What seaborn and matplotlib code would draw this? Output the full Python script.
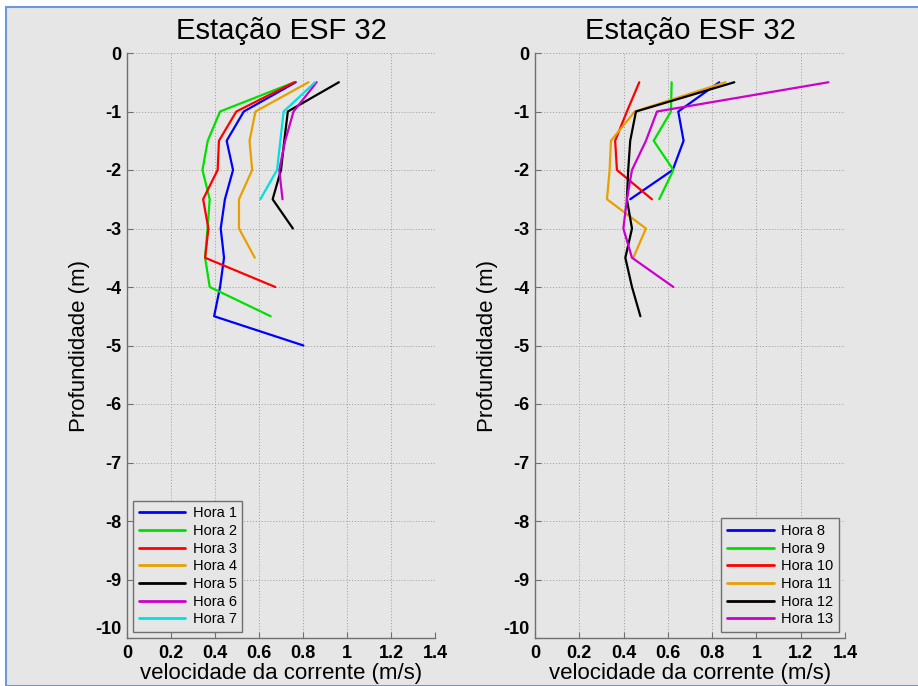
import matplotlib.pyplot as plt
import matplotlib.patches as patches
import pandas as pd
import seaborn as sns

# depth levels (m)
prof = [-0.5, -1, -1.5, -2, -2.5, -3, -3.5, -4, -4.5, -5]

# left panel - Hora 1..7 (velocidade m/s, from the surface down)
hora1 = [0.767, 0.531, 0.453, 0.482, 0.445, 0.426, 0.441, 0.423, 0.396, 0.802]
hora2 = [0.761, 0.423, 0.367, 0.343, 0.376, 0.366, 0.355, 0.376, 0.653]
hora3 = [0.761, 0.497, 0.418, 0.412, 0.346, 0.370, 0.355, 0.674]
hora4 = [0.825, 0.584, 0.557, 0.569, 0.509, 0.509, 0.581]
hora5 = [0.963, 0.731, 0.715, 0.700, 0.662, 0.754]
hora6 = [0.862, 0.757, 0.719, 0.692, 0.707]
hora7 = [0.855, 0.712, 0.697, 0.682, 0.606]

# right panel - Hora 8..13
hora8 = [0.832, 0.647, 0.671, 0.622, 0.430]
hora9 = [0.617, 0.614, 0.536, 0.625, 0.561]
hora10 = [0.471, 0.415, 0.362, 0.370, 0.528]
hora11 = [0.860, 0.451, 0.343, 0.337, 0.325, 0.501, 0.444]
hora12 = [0.900, 0.456, 0.430, 0.421, 0.415, 0.438, 0.408, 0.438, 0.476]
hora13 = [1.325, 0.551, 0.501, 0.438, 0.415, 0.399, 0.438, 0.625]

esquerda = {"Hora 1": hora1, "Hora 2": hora2, "Hora 3": hora3, "Hora 4": hora4,
            "Hora 5": hora5, "Hora 6": hora6, "Hora 7": hora7}
direita = {"Hora 8": hora8, "Hora 9": hora9, "Hora 10": hora10,
           "Hora 11": hora11, "Hora 12": hora12, "Hora 13": hora13}

cores_esq = ["#0000ff", "#00e000", "#ff0000", "#e8a000", "#000000", "#cc00cc", "#00e0e0"]
cores_dir = ["#0000ff", "#00e000", "#ff0000", "#e8a000", "#000000", "#cc00cc"]


def monta_df(series):
    linhas = []
    for nome, vel in series.items():
        for v, p in zip(vel, prof):
            linhas.append({"hora": nome, "vel": v, "prof": p})
    return pd.DataFrame(linhas)


sns.set_theme(style="ticks")
plt.rcParams["font.family"] = ["Liberation Sans", "DejaVu Sans"]
plt.rcParams["axes.unicode_minus"] = False
plt.rcParams["text.color"] = "black"
plt.rcParams["axes.labelcolor"] = "black"
plt.rcParams["xtick.labelcolor"] = "black"
plt.rcParams["ytick.labelcolor"] = "black"

bg = "#e6e6e6"
fig = plt.figure(figsize=(9.18, 6.86), dpi=100, facecolor="white")
fig.patches.append(patches.Rectangle((6 / 918, 0), 1, 1 - 7 / 686, transform=fig.transFigure,
                                     facecolor=bg, edgecolor="#6a9bd8", linewidth=1.5, zorder=-1))

ax1 = fig.add_axes([127 / 918, 48 / 686, 308 / 918, 585 / 686])
ax2 = fig.add_axes([535 / 918, 48 / 686, 310 / 918, 585 / 686])

for ax, series, cores, loc in [(ax1, esquerda, cores_esq, "lower left"),
                               (ax2, direita, cores_dir, "lower right")]:
    df = monta_df(series)
    sns.lineplot(data=df, x="vel", y="prof", hue="hora", hue_order=list(series.keys()),
                 palette=cores, sort=False, estimator=None, linewidth=1.6, ax=ax)
    ax.set_facecolor(bg)
    ax.set_xlim(0, 1.4)
    ax.set_ylim(-10, 0)
    ax.set_xticks([0, 0.2, 0.4, 0.6, 0.8, 1, 1.2, 1.4])
    ax.set_xticklabels(["0", "0.2", "0.4", "0.6", "0.8", "1", "1.2", "1.4"])
    ax.set_yticks(range(-10, 1))
    ax.grid(True, linestyle=(0, (1, 2)), color="#9a9a9a", linewidth=0.7)
    for lado in ["top", "right"]:
        ax.spines[lado].set_visible(False)
    for lado in ["left", "bottom"]:
        ax.spines[lado].set_color("#707070")
        ax.spines[lado].set_linewidth(1.0)
    ax.tick_params(direction="in", length=4, width=0.8, color="#707070", labelsize=13)
    ax.tick_params(axis="x", pad=5)
    ax.tick_params(axis="y", pad=4)
    for t in ax.get_xticklabels() + ax.get_yticklabels():
        t.set_fontweight("bold")
    ax.get_yticklabels()[0].set_verticalalignment("bottom")
    ax.set_title("Estação ESF 32", fontsize=21, pad=10, color="black")
    ax.set_xlabel("velocidade da corrente (m/s)", fontsize=16, labelpad=1)
    ax.set_ylabel("Profundidade (m)", fontsize=16, labelpad=4)
    leg = ax.legend(loc=loc, fontsize=10.5, frameon=True, fancybox=False,
                    handlelength=3.2, borderaxespad=0.4, labelspacing=0.25,
                    borderpad=0.4, handletextpad=0.5)
    leg.get_frame().set_facecolor(bg)
    leg.get_frame().set_edgecolor("#707070")
    leg.get_frame().set_alpha(1)
    for h in leg.get_lines():
        h.set_linewidth(2)
    for t in leg.get_texts():
        t.set_color("black")

fig.savefig("out.png", dpi=100, facecolor=fig.get_facecolor())
